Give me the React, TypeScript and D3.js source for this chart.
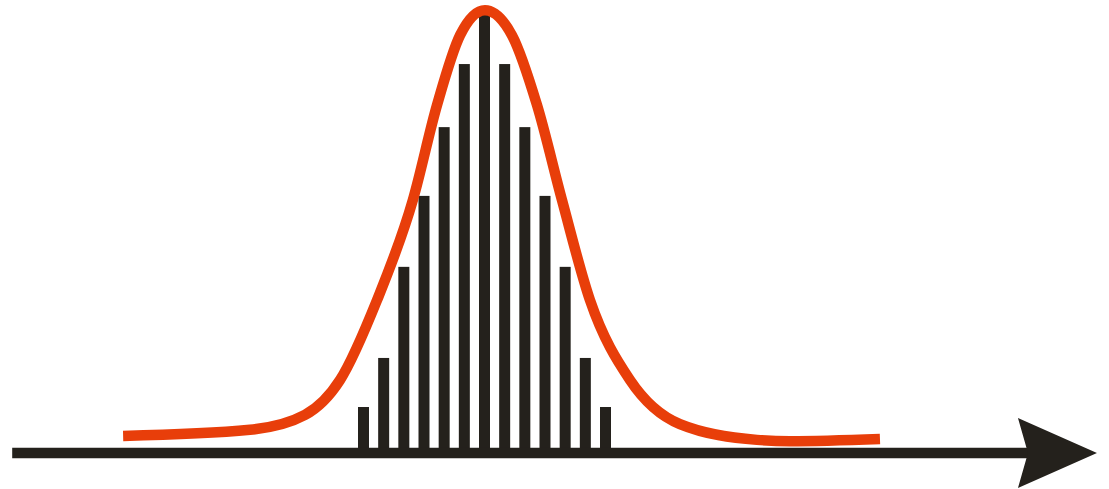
import React from "react";
import * as d3 from "d3";

// Histogram bins (centred on 0) and their relative frequencies
const binCenters = [-6, -5, -4, -3, -2, -1, 0, 1, 2, 3, 4, 5, 6];
const binValues = [10.5, 21.7, 42.5, 58.7, 74.4, 88.8, 100, 88.8, 74.4, 58.7, 42.5, 21.7, 10.5];

// Fitted density curve, sampled points
const curveX = [
  -17.92, -11.63, -8.9, -7.16, -5.33, -3.55, -2.35, -1.21, 0.02, 1.36, 2.6, 3.84, 5.23,
  7.21, 9.69, 13.51, 15.15, 19.61,
];
const curveY = [
  3.9, 5.3, 8.7, 16.7, 34.9, 57.8, 79.5, 95.4, 101.1, 95.4, 79.5, 57.8, 34.9,
  16.7, 6.6, 3.0, 2.7, 3.2,
];

// Extent of the horizontal axis (arrow tip at the right)
const axisStart = -23.42;
const axisEnd = 30.37;

const W = 1109;
const H = 489;
const INK = "#24211c";
const RED = "#e83e0a";

export default function App() {
  const x = d3.scaleLinear().domain([-6, 6]).range([363.5, 605.5]);
  const y = d3.scaleLinear().domain([0, 100]).range([453, 15]);

  const barW = 11;
  const line = d3
    .line<number>()
    .x((_, i) => x(curveX[i]))
    .y((d) => y(d))
    .curve(d3.curveMonotoneX);

  const x0 = x(axisStart);
  const tip = x(axisEnd);
  const base = y(0);
  const headLen = 79;
  const headHalf = 35;
  const arrow = `M${tip - headLen},${base - headHalf} L${tip},${base} L${tip - headLen},${base + headHalf} L${tip - headLen + 10},${base} Z`;

  return (
    <svg
      width={W}
      height={H}
      style={{ position: "absolute", left: 0, top: 0, background: "#fff" }}
    >
      {binCenters.map((c, i) => (
        <rect
          key={c}
          x={x(c) - barW / 2}
          y={y(binValues[i])}
          width={barW}
          height={base - y(binValues[i])}
          fill={INK}
        />
      ))}
      <line x1={x0} x2={tip - headLen + 12} y1={base} y2={base} stroke={INK} strokeWidth={10.5} />
      <path d={arrow} fill={INK} />
      <path d={line(curveY) || ""} fill="none" stroke={RED} strokeWidth={10.5} strokeLinejoin="round" />
    </svg>
  );
}
